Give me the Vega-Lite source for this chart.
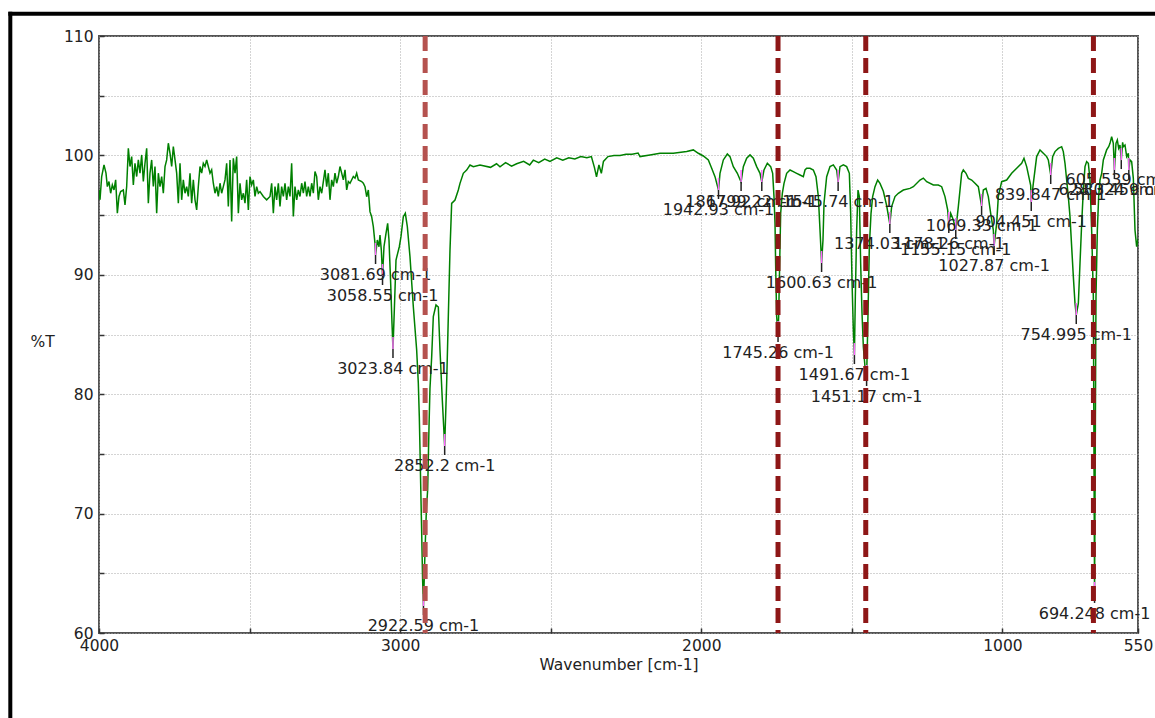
{
  "$schema": "https://vega.github.io/schema/vega-lite/v6.json",
  "width": 1039,
  "height": 597,
  "autosize": {"type": "none"},
  "padding": {"left": 99, "top": 36, "right": 17, "bottom": 85},
  "background": "white",
  "config": {
    "view": {"stroke": "#555555", "strokeWidth": 2},
    "font": "DejaVu Sans",
    "axis": {
      "labelFont": "DejaVu Sans", "labelFontSize": 15.5, "labelColor": "#222222",
      "titleFont": "DejaVu Sans", "titleFontSize": 15.5, "titleFontWeight": "normal", "titleColor": "#222222",
      "domain": false, "tickColor": "#333333", "tickWidth": 1.5, "tickSize": -5,
      "gridColor": "#a8a8a8", "gridDash": [1, 2], "gridWidth": 1,
      "labelFlush": false, "labelOverlap": false, "labelBound": false
    }
  },
  "datasets": {
    "spectrum": [
{"w":4000,"T":97.11},{"w":3996.7,"T":96.28},{"w":3991.1,"T":98.23},{"w":3983.4,"T":99.21},{"w":3976.8,"T":98.51},{"w":3972.3,"T":97.39},{"w":3966.8,"T":97.81},{"w":3961.3,"T":96.83},{"w":3955.7,"T":97.53},{"w":3950.2,"T":97.11},{"w":3944.7,"T":97.95},{"w":3939.1,"T":95.16},{"w":3933.6,"T":96.56},{"w":3928.1,"T":96.97},{"w":3919.2,"T":97.11},{"w":3913.7,"T":95.86},{"w":3908.1,"T":97.39},{"w":3902.6,"T":100.6},{"w":3897.1,"T":99.07},{"w":3891.5,"T":99.9},{"w":3886,"T":97.53},{"w":3880.5,"T":99.34},{"w":3874.9,"T":98.23},{"w":3869.4,"T":99.62},{"w":3863.9,"T":98.51},{"w":3858.3,"T":100.04},{"w":3852.8,"T":97.81},{"w":3847.3,"T":99.34},{"w":3841.7,"T":100.6},{"w":3836.2,"T":96},{"w":3830.7,"T":98.51},{"w":3825.1,"T":99.62},{"w":3819.6,"T":97.39},{"w":3814.1,"T":99.07},{"w":3808.5,"T":95.16},{"w":3803,"T":98.51},{"w":3797.5,"T":97.39},{"w":3791.9,"T":98.23},{"w":3786.4,"T":96.83},{"w":3780.8,"T":99.07},{"w":3775.3,"T":99.62},{"w":3769.8,"T":101.02},{"w":3764.2,"T":100.18},{"w":3758.7,"T":99.07},{"w":3753.2,"T":100.74},{"w":3747.6,"T":99.62},{"w":3742.1,"T":98.51},{"w":3736.6,"T":96},{"w":3731,"T":99.34},{"w":3725.5,"T":96.28},{"w":3720,"T":97.95},{"w":3714.4,"T":96.83},{"w":3708.9,"T":97.39},{"w":3703.4,"T":96.56},{"w":3697.8,"T":98.51},{"w":3692.3,"T":96},{"w":3686.8,"T":97.95},{"w":3681.2,"T":96.28},{"w":3675.7,"T":95.44},{"w":3670.2,"T":97.39},{"w":3664.6,"T":99.07},{"w":3659.1,"T":98.51},{"w":3653.6,"T":99.34},{"w":3648,"T":99.07},{"w":3642.5,"T":99.62},{"w":3637,"T":99.07},{"w":3631.4,"T":98.51},{"w":3625.9,"T":98.79},{"w":3620.4,"T":97.67},{"w":3614.8,"T":96.83},{"w":3609.3,"T":97.39},{"w":3603.8,"T":96.56},{"w":3598.2,"T":97.67},{"w":3592.7,"T":96.83},{"w":3587.2,"T":97.39},{"w":3581.6,"T":97.95},{"w":3576.1,"T":99.34},{"w":3570.6,"T":95.72},{"w":3565,"T":99.62},{"w":3559.5,"T":94.46},{"w":3554,"T":99.76},{"w":3548.4,"T":98.51},{"w":3542.9,"T":99.9},{"w":3537.3,"T":95.16},{"w":3531.8,"T":97.67},{"w":3526.3,"T":96.28},{"w":3520.7,"T":96.83},{"w":3515.2,"T":96},{"w":3509.7,"T":97.95},{"w":3504.1,"T":95.44},{"w":3498.6,"T":98.23},{"w":3493.1,"T":97.53},{"w":3487.5,"T":97.95},{"w":3482,"T":96.56},{"w":3476.5,"T":97.39},{"w":3470.9,"T":96.83},{"w":3465.4,"T":96.97},{"w":3454.3,"T":96.56},{"w":3443.3,"T":96.28},{"w":3432.2,"T":96.56},{"w":3426.7,"T":97.67},{"w":3421.1,"T":95.16},{"w":3415.6,"T":97.39},{"w":3410.1,"T":96.28},{"w":3404.5,"T":97.67},{"w":3399,"T":95.72},{"w":3393.5,"T":97.39},{"w":3387.9,"T":96.56},{"w":3382.4,"T":97.67},{"w":3376.9,"T":96.28},{"w":3371.3,"T":97.39},{"w":3365.8,"T":96.56},{"w":3360.3,"T":99.34},{"w":3354.7,"T":94.88},{"w":3349.2,"T":97.39},{"w":3343.6,"T":96.28},{"w":3338.1,"T":97.11},{"w":3332.6,"T":96.56},{"w":3327,"T":97.67},{"w":3321.5,"T":96.83},{"w":3316,"T":97.81},{"w":3310.4,"T":96.56},{"w":3304.9,"T":97.39},{"w":3299.4,"T":96.56},{"w":3293.8,"T":97.67},{"w":3288.3,"T":96.83},{"w":3282.8,"T":98.65},{"w":3277.2,"T":98.23},{"w":3271.7,"T":96.28},{"w":3266.2,"T":97.39},{"w":3260.6,"T":96.83},{"w":3255.1,"T":97.81},{"w":3249.6,"T":98.79},{"w":3244,"T":97.39},{"w":3238.5,"T":98.51},{"w":3233,"T":96.28},{"w":3227.4,"T":97.95},{"w":3221.9,"T":97.39},{"w":3216.4,"T":98.51},{"w":3210.8,"T":97.67},{"w":3205.3,"T":98.23},{"w":3199.8,"T":99.07},{"w":3194.2,"T":98.51},{"w":3188.7,"T":97.95},{"w":3183.1,"T":98.79},{"w":3177.6,"T":97.11},{"w":3172.1,"T":97.81},{"w":3166.5,"T":97.67},{"w":3155.5,"T":98.23},{"w":3149.9,"T":98.09},{"w":3144.4,"T":98.51},{"w":3138.9,"T":97.95},{"w":3127.8,"T":97.81},{"w":3122.3,"T":97.67},{"w":3116.8,"T":97.38},{"w":3111.2,"T":96.54},{"w":3105.7,"T":97.1},{"w":3100.2,"T":95.29},{"w":3094.6,"T":94.87},{"w":3089.1,"T":94.03},{"w":3083.6,"T":92.63},{"w":3081.69,"T":91.66},{"w":3075.8,"T":92.91},{"w":3070.3,"T":92.35},{"w":3067,"T":93.33},{"w":3062.5,"T":92.07},{"w":3058.55,"T":89.9},{"w":3053.7,"T":92.35},{"w":3047,"T":93.47},{"w":3041.5,"T":94.31},{"w":3037.1,"T":92.91},{"w":3031.5,"T":89.28},{"w":3027.1,"T":85.93},{"w":3023.84,"T":83.79},{"w":3019.4,"T":87.05},{"w":3013.8,"T":91.24},{"w":3008.3,"T":91.8},{"w":3002.8,"T":92.35},{"w":2997.3,"T":93.19},{"w":2989.5,"T":94.87},{"w":2982.9,"T":95.15},{"w":2976.2,"T":94.03},{"w":2967.4,"T":91.52},{"w":2956.3,"T":87.33},{"w":2945.2,"T":83.7},{"w":2939.7,"T":80.91},{"w":2936.4,"T":78.12},{"w":2934.1,"T":75.32},{"w":2931.9,"T":72.53},{"w":2928.6,"T":68.5},{"w":2925.5,"T":64.5},{"w":2922.59,"T":62.26},{"w":2918.5,"T":66},{"w":2913,"T":70.3},{"w":2908.7,"T":72},{"w":2904,"T":77.5},{"w":2901,"T":80.5},{"w":2895.4,"T":83.1},{"w":2889.9,"T":86.5},{"w":2881,"T":87.47},{"w":2873.3,"T":87.3},{"w":2867.7,"T":83.7},{"w":2860,"T":79.5},{"w":2852.2,"T":75.66},{"w":2845.6,"T":80.91},{"w":2840.1,"T":86.5},{"w":2834.5,"T":92.1},{"w":2829,"T":95.98},{"w":2817.9,"T":96.26},{"w":2806.9,"T":97.1},{"w":2801.3,"T":97.66},{"w":2790.3,"T":98.5},{"w":2779.2,"T":98.77},{"w":2768.1,"T":99.19},{"w":2757.1,"T":99.05},{"w":2734.9,"T":99.19},{"w":2700,"T":99},{"w":2680,"T":99.3},{"w":2668.5,"T":99.05},{"w":2650,"T":99.4},{"w":2630,"T":99.1},{"w":2613.2,"T":99.3},{"w":2590,"T":99.5},{"w":2570,"T":99.2},{"w":2557.8,"T":99.6},{"w":2540,"T":99.4},{"w":2520,"T":99.7},{"w":2502.5,"T":99.5},{"w":2480,"T":99.8},{"w":2460,"T":99.6},{"w":2440,"T":99.8},{"w":2420,"T":99.7},{"w":2400,"T":99.9},{"w":2380,"T":99.8},{"w":2365,"T":99.9},{"w":2355,"T":99},{"w":2348,"T":98.2},{"w":2340,"T":99.2},{"w":2332,"T":98.5},{"w":2325,"T":99.5},{"w":2310,"T":99.9},{"w":2290,"T":100},{"w":2270,"T":100},{"w":2250,"T":100.1},{"w":2230,"T":100.1},{"w":2210,"T":100.2},{"w":2203.6,"T":99.9},{"w":2170.4,"T":100.04},{"w":2137.2,"T":100.18},{"w":2092.9,"T":100.18},{"w":2048.6,"T":100.32},{"w":2026.5,"T":100.46},{"w":2009.9,"T":100.18},{"w":1993.3,"T":99.95},{"w":1976.7,"T":99.62},{"w":1965.6,"T":98.92},{"w":1954.6,"T":98.22},{"w":1942.93,"T":97.1},{"w":1938,"T":98.5},{"w":1926.9,"T":99.62},{"w":1913.6,"T":100.12},{"w":1904.8,"T":99.9},{"w":1893.7,"T":99.06},{"w":1880.4,"T":98.5},{"w":1867.92,"T":97.77},{"w":1860.5,"T":99.06},{"w":1849.4,"T":99.76},{"w":1838.3,"T":100.04},{"w":1827.3,"T":99.76},{"w":1816.2,"T":99.06},{"w":1805.1,"T":98.5},{"w":1799.22,"T":97.77},{"w":1791.9,"T":98.78},{"w":1780.8,"T":99.34},{"w":1769.7,"T":99.06},{"w":1763.1,"T":98.5},{"w":1758.7,"T":96.55},{"w":1755.3,"T":94.31},{"w":1753.1,"T":90.68},{"w":1749.8,"T":86.5},{"w":1745.26,"T":85.13},{"w":1743.2,"T":86.5},{"w":1739.8,"T":90.96},{"w":1736.5,"T":95.15},{"w":1731,"T":96.83},{"w":1725.4,"T":97.66},{"w":1716.6,"T":98.5},{"w":1705.5,"T":98.78},{"w":1694.5,"T":98.64},{"w":1683.4,"T":98.5},{"w":1672.3,"T":98.36},{"w":1661.3,"T":98.22},{"w":1655.7,"T":98.78},{"w":1650.2,"T":98.92},{"w":1639.1,"T":98.92},{"w":1628,"T":98.78},{"w":1619.2,"T":98.22},{"w":1611.4,"T":96.55},{"w":1605.9,"T":93.75},{"w":1600.63,"T":90.99},{"w":1596,"T":92.92},{"w":1592.6,"T":95.99},{"w":1583.8,"T":98.22},{"w":1572.7,"T":99.06},{"w":1561.6,"T":99.2},{"w":1550.6,"T":98.78},{"w":1545.74,"T":97.77},{"w":1539.5,"T":99.06},{"w":1528.4,"T":99.2},{"w":1517.4,"T":99.06},{"w":1508.5,"T":98.5},{"w":1504.1,"T":95.15},{"w":1499.7,"T":89.57},{"w":1495.2,"T":85.38},{"w":1491.67,"T":83.28},{"w":1488.6,"T":88.17},{"w":1484.2,"T":93.75},{"w":1479.7,"T":97.1},{"w":1475.3,"T":96.55},{"w":1470.9,"T":90.96},{"w":1466.4,"T":86.78},{"w":1462,"T":83.98},{"w":1456.5,"T":82.3},{"w":1451.17,"T":81.44},{"w":1447.6,"T":85.38},{"w":1442.1,"T":92.36},{"w":1436.5,"T":95.15},{"w":1431.1,"T":96.55},{"w":1423.3,"T":97.38},{"w":1414.5,"T":97.94},{"w":1406.7,"T":97.66},{"w":1395.6,"T":97},{"w":1384.6,"T":95.8},{"w":1374.03,"T":94.25},{"w":1368,"T":95.71},{"w":1356.9,"T":96.55},{"w":1345.8,"T":96.83},{"w":1329.2,"T":97.1},{"w":1307.1,"T":97.24},{"w":1296,"T":97.38},{"w":1273.9,"T":97.94},{"w":1262.8,"T":98.1},{"w":1251.7,"T":97.8},{"w":1229.6,"T":97.52},{"w":1213,"T":97.52},{"w":1201.9,"T":97.38},{"w":1190.9,"T":96.55},{"w":1182,"T":95.43},{"w":1178.26,"T":94.25},{"w":1172,"T":95.15},{"w":1163.2,"T":94.59},{"w":1155.15,"T":93.75},{"w":1146.6,"T":95.71},{"w":1135.5,"T":98.5},{"w":1130,"T":98.78},{"w":1121.1,"T":98.5},{"w":1113.4,"T":98.08},{"w":1102.3,"T":97.94},{"w":1091.3,"T":97.66},{"w":1080.2,"T":97.38},{"w":1069.33,"T":95.76},{"w":1063.6,"T":97.1},{"w":1054.7,"T":97.24},{"w":1047,"T":96.55},{"w":1039.2,"T":95.15},{"w":1030.4,"T":93.75},{"w":1027.87,"T":92.41},{"w":1019.3,"T":94.31},{"w":1013.8,"T":96.55},{"w":1002.7,"T":97.8},{"w":986.1,"T":97.94},{"w":969.5,"T":98.5},{"w":952.9,"T":98.92},{"w":936.3,"T":99.34},{"w":928.6,"T":99.76},{"w":919.7,"T":99.06},{"w":906.4,"T":97.5},{"w":904.451,"T":96.1},{"w":897.6,"T":97.66},{"w":886.5,"T":99.9},{"w":875.4,"T":100.46},{"w":864.4,"T":100.18},{"w":853.3,"T":99.9},{"w":847.8,"T":99.62},{"w":839.847,"T":98.36},{"w":833.4,"T":99.9},{"w":825.6,"T":100.32},{"w":814.6,"T":100.59},{"w":803.5,"T":100.73},{"w":798,"T":100.32},{"w":792.4,"T":99.34},{"w":786.9,"T":97.94},{"w":781.4,"T":96.55},{"w":775.8,"T":94.87},{"w":770.3,"T":92.36},{"w":764.7,"T":89.85},{"w":759.2,"T":87.61},{"w":754.995,"T":86.63},{"w":748.1,"T":87.61},{"w":742.6,"T":90.96},{"w":737,"T":94.31},{"w":731.5,"T":97.1},{"w":726,"T":99.06},{"w":720.5,"T":99.48},{"w":714.9,"T":99.34},{"w":709.4,"T":97.94},{"w":703.9,"T":93.75},{"w":698.3,"T":88.17},{"w":694.248,"T":63.27},{"w":689.5,"T":88.17},{"w":685,"T":93.75},{"w":680.6,"T":96.55},{"w":676.2,"T":97.94},{"w":670.6,"T":98.5},{"w":665.1,"T":99.62},{"w":654.1,"T":100.46},{"w":647.4,"T":100.73},{"w":643,"T":101.01},{"w":637.5,"T":101.57},{"w":632,"T":101.01},{"w":628.324,"T":98.78},{"w":623.1,"T":101.01},{"w":618.7,"T":101.29},{"w":614.2,"T":100.6},{"w":609.8,"T":100.87},{"w":605.539,"T":99.61},{"w":601,"T":101.1},{"w":598.7,"T":100.73},{"w":593.2,"T":100.87},{"w":587.6,"T":99.9},{"w":582.1,"T":100.18},{"w":580.459,"T":98.78},{"w":576.6,"T":99.62},{"w":571.1,"T":99.48},{"w":565.5,"T":98.08},{"w":560,"T":93.75},{"w":554.5,"T":92.36},{"w":550,"T":93}
    ],
    "peaks": [
{"w":3081.69,"T":91.66,"label":"3081.69 cm-1"},
{"w":3058.55,"T":89.9,"label":"3058.55 cm-1"},
{"w":3023.84,"T":83.79,"label":"3023.84 cm-1"},
{"w":2922.59,"T":62.26,"label":"2922.59 cm-1"},
{"w":2852.2,"T":75.66,"label":"2852.2 cm-1"},
{"w":1942.93,"T":97.1,"label":"1942.93 cm-1"},
{"w":1867.92,"T":97.77,"label":"1867.92 cm-1"},
{"w":1799.22,"T":97.77,"label":"1799.22 cm-1"},
{"w":1745.26,"T":85.13,"label":"1745.26 cm-1"},
{"w":1600.63,"T":90.99,"label":"1600.63 cm-1"},
{"w":1545.74,"T":97.77,"label":"1545.74 cm-1"},
{"w":1491.67,"T":83.28,"label":"1491.67 cm-1"},
{"w":1451.17,"T":81.44,"label":"1451.17 cm-1"},
{"w":1374.03,"T":94.25,"label":"1374.03 cm-1"},
{"w":1178.26,"T":94.25,"label":"1178.26 cm-1"},
{"w":1155.15,"T":93.75,"label":"1155.15 cm-1"},
{"w":1069.33,"T":95.76,"label":"1069.33 cm-1"},
{"w":1027.87,"T":92.41,"label":"1027.87 cm-1"},
{"w":904.451,"T":96.1,"label":"904.451 cm-1"},
{"w":839.847,"T":98.36,"label":"839.847 cm-1"},
{"w":754.995,"T":86.63,"label":"754.995 cm-1"},
{"w":694.248,"T":63.27,"label":"694.248 cm-1"},
{"w":628.324,"T":98.78,"label":"628.324 cm-1"},
{"w":605.539,"T":99.61,"label":"605.539 cm-1"},
{"w":580.459,"T":98.78,"label":"580.459 cm-1"}
    ],
    "bands": [
{"w":2917},{"w":1745.3},{"w":1454},{"w":698}
    ]
  },
  "layer": [
    {
      "data": {"name": "spectrum"},
      "mark": {"type": "line", "color": "#008000", "strokeWidth": 1.5, "clip": true},
      "encoding": {
        "x": {
          "field": "w", "type": "quantitative", "title": "Wavenumber [cm-1]",
          "scale": {"domain": [550, 4000], "reverse": true, "nice": false, "zero": false},
          "axis": {
            "values": [4000, 3500, 3000, 2500, 2000, 1500, 1000, 550],
            "format": "d",
            "labelExpr": "datum.value % 1000 === 0 || datum.value === 550 ? datum.label : ''",
            "labelPadding": 10, "titlePadding": 4
          }
        },
        "y": {
          "field": "T", "type": "quantitative", "title": "%T",
          "scale": {"domain": [60, 110], "nice": false, "zero": false},
          "axis": {
            "values": [60, 65, 70, 75, 80, 85, 90, 95, 100, 105, 110],
            "labelExpr": "datum.value % 10 === 0 ? datum.label : ''",
            "labelPadding": 11,
            "titleAngle": 0, "titleAlign": "center", "titleBaseline": "middle",
            "titleX": -57, "titleY": 305
          }
        }
      }
    },
    {
      "data": {"name": "peaks"},
      "mark": {"type": "rule", "color": "#ff66ff", "strokeWidth": 1.5, "yOffset": -12, "y2Offset": 0},
      "encoding": {
        "x": {"field": "w", "type": "quantitative", "title": "Wavenumber [cm-1]"},
        "y": {"field": "T", "type": "quantitative", "title": "%T"},
        "y2": {"field": "T"}
      }
    },
    {
      "data": {"name": "peaks"},
      "mark": {"type": "rule", "color": "#222222", "strokeWidth": 1.5, "yOffset": 0, "y2Offset": 9},
      "encoding": {
        "x": {"field": "w", "type": "quantitative", "title": "Wavenumber [cm-1]"},
        "y": {"field": "T", "type": "quantitative", "title": "%T"},
        "y2": {"field": "T"}
      }
    },
    {
      "data": {"name": "peaks"},
      "mark": {"type": "text", "font": "DejaVu Sans", "fontSize": 16, "color": "#222222", "align": "center", "baseline": "middle", "dy": 20},
      "encoding": {
        "x": {"field": "w", "type": "quantitative", "title": "Wavenumber [cm-1]"},
        "y": {"field": "T", "type": "quantitative", "title": "%T"},
        "text": {"field": "label"}
      }
    },
    {
      "data": {"name": "bands"},
      "mark": {"type": "rule", "strokeWidth": 5, "strokeDash": [15, 7]},
      "encoding": {
        "x": {"field": "w", "type": "quantitative", "title": "Wavenumber [cm-1]"},
        "color": {"condition": {"test": "datum.w > 2000", "value": "#b5524f"}, "value": "#8e1717"}
      }
    },
    {
      "data": {"values": [{}]},
      "mark": {"type": "rule", "color": "#000000", "strokeWidth": 4, "clip": false},
      "encoding": {
        "x": {"datum": 4301, "type": "quantitative", "title": "Wavenumber [cm-1]"},
        "x2": {"datum": 400},
        "y": {"datum": 111.86, "type": "quantitative", "title": "%T"}
      }
    },
    {
      "data": {"values": [{}]},
      "mark": {"type": "rule", "color": "#000000", "strokeWidth": 4, "clip": false},
      "encoding": {
        "x": {"datum": 4294.5, "type": "quantitative", "title": "Wavenumber [cm-1]"},
        "y": {"datum": 112.03, "type": "quantitative", "title": "%T"},
        "y2": {"datum": 50}
      }
    }
  ]
}
